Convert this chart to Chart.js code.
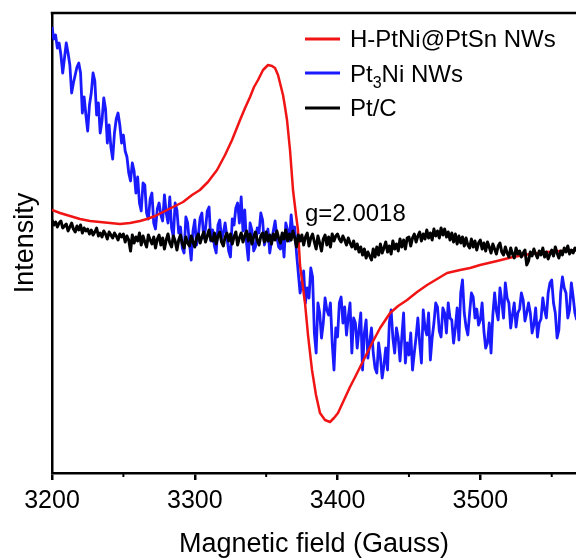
<!DOCTYPE html>
<html>
<head>
<meta charset="utf-8">
<script src="https://cdn.jsdelivr.net/npm/chart.js@4.4.0/dist/chart.umd.min.js"></script>
<style>
html,body{margin:0;padding:0;background:#fff;}
#wrap{width:576px;height:559px;position:relative;}
canvas{display:block;}
</style>
</head>
<body>
<div id="wrap"><canvas id="c" width="576" height="559"></canvas></div>
<script>
// ---- data (intensity in arbitrary units) ----
const seriesNames = ['H-PtNi@PtSn NWs', 'Pt3Ni NWs', 'Pt/C'];
const xTickValues = [3200, 3300, 3400, 3500];
const xMinorTicks = [3250, 3350, 3450, 3550];
const gLabel = 'g=2.0018';

const redField = [3200.0,3205.6,3212.6,3219.6,3226.6,3233.6,3240.6,3247.6,3254.6,3261.6,3266.5,3272.2,3280.6,3286.2,3291.8,3298.1,3303.6,3309.2,3315.6,3321.2,3326.1,3331.7,3335.2,3338.7,3341.5,3344.3,3347.8,3351.3,3354.1,3356.2,3358.3,3359.7,3361.8,3363.2,3364.6,3366.7,3368.8,3370.9,3372.3,3373.7,3375.1,3377.2,3379.3,3382.1,3384.9,3387.7,3391.2,3394.7,3397.5,3400.3,3404.5,3408.7,3412.3,3415.8,3420.0,3424.2,3429.8,3436.8,3442.4,3448.7,3455.7,3462.7,3469.7,3476.7,3485.8,3492.8,3499.8,3511.7,3522.9,3534.8,3546.7,3555.9,3567.1];
const redIntensity = [33,30,27,24,22,21,20,19,20,22,24,27,33,37,41,48,53,61,73,88,103,123,135,146,156,163,173,178,177,175,168,160,148,136,123,93,53,28,13,-22,-37,-60,-92,-127,-152,-170,-177,-179,-175,-170,-157,-144,-134,-124,-112,-100,-85,-70,-63,-57,-49,-42,-36,-30,-27,-25,-22,-18,-14,-11,-9,-8,-7];

const sampleStart = 3200;   // Gauss, first recorded field point of the noisy scans
const sampleStep = 1.25;    // Gauss between recorded points

const blueIntensity = [
216,204,208,195,200,188,170,185,200,190,178,150,160,168,176,180,170,130,146,128,
112,138,150,170,162,128,140,110,122,145,134,100,118,96,84,110,124,130,118,100,
108,92,86,70,62,80,72,50,66,40,32,60,58,30,24,44,50,20,14,34,
40,28,22,48,30,20,46,15,6,40,33,10,16,-5,-10,26,20,0,-17,12,
23,-2,8,25,30,5,14,32,36,2,13,-3,-10,18,23,4,10,20,6,-8,
-14,24,18,35,40,20,46,12,33,0,-17,20,13,-8,-4,15,10,30,23,-2,
5,14,-10,2,12,22,6,-4,-6,8,-14,20,13,2,28,10,16,-10,-30,-50,
-40,-28,-60,-45,-55,-25,-34,-90,-110,-60,-70,-95,-80,-55,-67,-72,-60,-100,-127,-85,
-94,-60,-54,-80,-64,-92,-74,-60,-110,-75,-80,-105,-87,-70,-127,-90,-77,-115,-100,-85,
-110,-125,-130,-100,-114,-135,-122,-105,-127,-80,-67,-95,-110,-85,-95,-118,-94,-70,-120,-100,
-112,-90,-127,-110,-94,-75,-100,-120,-67,-85,-92,-70,-117,-95,-80,-60,-64,-88,-94,-65,
-70,-90,-60,-75,-77,-100,-85,-65,-97,-50,-37,-70,-84,-92,-70,-50,-54,-75,-66,-82,
-77,-60,-88,-105,-100,-80,-110,-72,-50,-68,-77,-45,-58,-75,-40,-55,-60,-85,-72,-60,
-84,-70,-66,-50,-57,-78,-70,-60,-70,-90,-82,-65,-94,-80,-76,-55,-67,-75,-50,-40,
-37,-60,-70,-95,-87,-50,-34,-45,-50,-75,-67,-40,-54,-70,-77];

const blackIntensity = [
23,18,21,16,20,22,15,17,19,12,16,20,14,11,17,13,18,10,15,12,
14,9,13,8,11,15,7,10,6,12,9,4,11,8,5,10,7,3,9,6,
9,1,7,3,-8,8,0,6,2,10,-2,7,1,-4,8,3,-1,6,-5,4,
8,-2,5,-6,3,9,0,-4,7,2,-7,3,8,-1,-5,6,0,-3,7,1,
-4,5,9,0,6,11,1,7,13,3,2,10,-1,7,11,1,-3,6,10,2,
9,-1,6,11,-2,5,10,1,7,12,2,9,-1,6,11,3,-2,7,10,1,
11,2,8,-1,9,3,12,5,0,10,4,13,2,9,3,12,5,-4,8,2,
8,-2,6,10,-3,5,9,1,-6,7,0,-8,4,8,-2,6,-4,9,2,7,
9,4,1,7,3,-2,5,0,-4,2,-6,-1,-9,-4,-12,-6,-15,-9,-13,-17,
-6,-14,-4,-12,-1,-10,-5,1,-9,-3,-11,2,-6,-1,-8,4,-4,3,-6,5,
6,-3,5,9,1,7,11,2,9,4,13,5,10,3,14,7,12,5,15,8,
14,6,11,3,10,1,9,-1,7,0,6,-3,5,-2,-5,4,-4,2,-7,0,
3,-6,0,-8,1,-4,-10,-1,-6,-11,-3,0,-9,-12,-4,-10,-14,-5,-11,-15,
-5,-11,-8,-14,-10,-7,-22,-18,-9,-13,-6,-11,-15,-8,-12,-5,-14,-9,-16,-11,
-7,-13,-4,-10,-15,-8,-12,-5,-9,-3,-11,-7,-10,-5,-8];

const RED = '#f01414', BLUE = '#1a1aff', BLACK = '#000000';
const FONT = '"Liberation Sans", Arial, sans-serif';

const toXY = (fields, vals) => vals.map((v, i) => ({ x: fields[i], y: v }));
const sampled = (vals) => vals.map((v, i) => ({ x: sampleStart + i * sampleStep, y: v }));

// ---- plugins ----
const framePlugin = {
  id: 'frame',
  afterDatasetsDraw(chart) {
    const { ctx, chartArea, scales } = chart;
    ctx.save();
    ctx.strokeStyle = '#000';
    ctx.lineWidth = 2.5;
    ctx.beginPath();
    ctx.moveTo(chartArea.left - 1.25, chartArea.top);
    ctx.lineTo(chartArea.right, chartArea.top);
    ctx.stroke();
    // minor ticks
    ctx.lineWidth = 2;
    xMinorTicks.forEach(v => {
      const px = scales.x.getPixelForValue(v);
      ctx.beginPath();
      ctx.moveTo(px, chartArea.bottom);
      ctx.lineTo(px, chartArea.bottom + 4);
      ctx.stroke();
    });
    // g-value annotation
    ctx.fillStyle = '#000';
    ctx.font = '24px ' + FONT;
    ctx.textBaseline = 'alphabetic';
    ctx.textAlign = 'left';
    ctx.fillText(gLabel, scales.x.getPixelForValue(3377.2), scales.y.getPixelForValue(22));
    ctx.restore();
  }
};

const legendPlugin = {
  id: 'customLegend',
  afterDraw(chart) {
    const { ctx } = chart;
    ctx.save();
    const colors = [RED, BLUE, BLACK];
    const lineY = [39, 73, 108];
    const baseY = [47, 82, 116];
    ctx.textBaseline = 'alphabetic';
    ctx.textAlign = 'left';
    ctx.fillStyle = '#000';
    for (let k = 0; k < 3; k++) {
      ctx.strokeStyle = colors[k];
      ctx.lineWidth = 3;
      ctx.beginPath();
      ctx.moveTo(305, lineY[k]);
      ctx.lineTo(340, lineY[k]);
      ctx.stroke();
      let x = 350;
      if (k === 1) {
        ctx.font = '24px ' + FONT;
        ctx.fillText('Pt', x, baseY[k]);
        x += ctx.measureText('Pt').width;
        ctx.font = '16px ' + FONT;
        ctx.fillText('3', x, baseY[k] + 6);
        x += ctx.measureText('3').width;
        ctx.font = '24px ' + FONT;
        ctx.fillText('Ni NWs', x, baseY[k]);
      } else {
        ctx.font = '24px ' + FONT;
        ctx.fillText(seriesNames[k], x, baseY[k]);
      }
    }
    ctx.restore();
  }
};

const ds = (label, data, color, order, width) => ({
  label, data, borderColor: color, backgroundColor: color,
  borderWidth: width, pointRadius: 0, tension: 0, order,
  borderJoinStyle: 'round', fill: false
});

new Chart(document.getElementById('c'), {
  type: 'line',
  data: {
    datasets: [
      ds(seriesNames[2], sampled(blackIntensity), BLACK, 0, 3),
      ds(seriesNames[0], toXY(redField, redIntensity), RED, 1, 2.5),
      ds(seriesNames[1], sampled(blueIntensity), BLUE, 2, 2.8)
    ]
  },
  options: {
    responsive: false,
    animation: false,
    devicePixelRatio: 1,
    layout: { padding: { top: 13, left: 0, right: 0, bottom: 0 } },
    plugins: { legend: { display: false }, tooltip: { enabled: false } },
    scales: {
      x: {
        type: 'linear',
        min: 3200, max: 3567,
        afterBuildTicks: (s) => { s.ticks = xTickValues.map(v => ({ value: v })); },
        afterFit: (s) => { s.height = 86; },
        ticks: {
          color: '#000', padding: 6, maxRotation: 0, autoSkip: false,
          font: { family: FONT, size: 25 },
          callback: (v) => String(v)
        },
        grid: { display: true, drawOnChartArea: false, drawTicks: true, tickLength: 7, color: '#000', lineWidth: 2.5 },
        border: { display: true, color: '#000', width: 2.5 },
        title: {
          display: true, text: 'Magnetic field (Gauss)', color: '#000',
          font: { family: FONT, size: 27, lineHeight: 1.1 },
          padding: { top: 0, bottom: 0 }
        }
      },
      y: {
        min: -230, max: 230,
        afterFit: (s) => { s.width = 52; },
        ticks: { display: false },
        grid: { display: false },
        border: { display: true, color: '#000', width: 2.5 },
        title: {
          display: true, text: 'Intensity', color: '#000',
          font: { family: FONT, size: 27, lineHeight: 1.2 },
          padding: { top: 9, bottom: 0 }
        }
      }
    }
  },
  plugins: [framePlugin, legendPlugin]
});
</script>
</body>
</html>
